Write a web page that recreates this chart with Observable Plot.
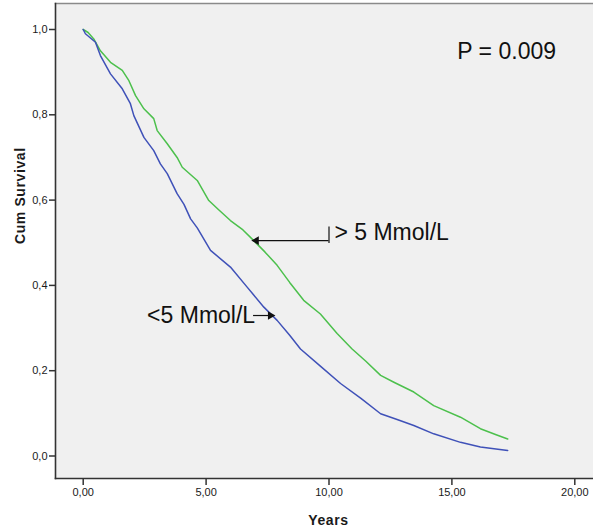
<!DOCTYPE html>
<html>
<head>
<meta charset="utf-8">
<script src="https://cdn.jsdelivr.net/npm/d3@7"></script>
<script src="https://cdn.jsdelivr.net/npm/@observablehq/plot@0.6"></script>
<style>
  html, body { margin: 0; padding: 0; background: #ffffff; }
  #chart svg { display: block; }
</style>
</head>
<body>
<div id="chart"></div>
<script>
// ---- data ----
const groupHigh = "> 5 Mmol/L";
const groupLow = "<5 Mmol/L";

const highTimes = [0, 0.2, 0.43, 0.7, 1.11, 1.59, 1.86, 2.13, 2.47, 2.87, 3.01, 3.42, 3.82, 4.03, 4.64, 5.11, 5.5, 5.99, 6.5, 6.94, 7.4, 7.89, 8.4, 8.97, 9.65, 10.33, 10.94, 11.5, 12.1, 12.64, 13.45, 14.26, 15.35, 16.16, 16.8, 17.27];
const highSurv  = [1.0, 0.993, 0.978, 0.95, 0.923, 0.904, 0.88, 0.845, 0.814, 0.791, 0.763, 0.732, 0.7, 0.677, 0.646, 0.599, 0.578, 0.552, 0.53, 0.505, 0.478, 0.447, 0.407, 0.365, 0.333, 0.287, 0.251, 0.222, 0.189, 0.173, 0.15, 0.118, 0.091, 0.064, 0.05, 0.04];

const lowTimes = [0, 0.09, 0.5, 0.7, 1.11, 1.59, 1.92, 2.06, 2.47, 2.87, 3.14, 3.42, 3.82, 4.1, 4.37, 4.64, 5.18, 5.99, 6.67, 7.35, 7.89, 8.4, 8.84, 9.66, 10.47, 11.3, 12.1, 12.8, 13.45, 14.26, 15.35, 16.16, 17.27];
const lowSurv  = [1.0, 0.99, 0.97, 0.939, 0.896, 0.861, 0.826, 0.798, 0.747, 0.716, 0.685, 0.662, 0.615, 0.59, 0.556, 0.535, 0.482, 0.443, 0.396, 0.349, 0.318, 0.283, 0.251, 0.21, 0.17, 0.135, 0.099, 0.085, 0.0715, 0.052, 0.032, 0.021, 0.013];

const xTicks = [0, 5, 10, 15, 20];
const yTicks = [0, 0.2, 0.4, 0.6, 0.8, 1.0];

const pText = "P = 0.009";
const pPos = [15.22, 0.9487];
const highLabelPos = [10.22, 0.5226];
const lowLabelPos = [2.6, 0.3287];
const highArrow = {x1: 10, x2: 6.92, y: 0.505, bar1: 0.498, bar2: 0.537};
const lowArrow = {x1: 6.93, x2: 7.74, y: 0.3294};

const colorHigh = "#4cc04c";
const colorLow = "#3f51b8";

// ---- build tables ----
const high = highTimes.map((t, i) => ({t, s: highSurv[i], g: groupHigh}));
const low = lowTimes.map((t, i) => ({t, s: lowSurv[i], g: groupLow}));

const font = "'Liberation Sans', Arial, sans-serif";

const chart = Plot.plot({
  width: 593,
  height: 529,
  marginLeft: 55,
  marginRight: 0,
  marginTop: 3,
  marginBottom: 51,
  style: {fontFamily: font, background: "#ffffff", color: "#1a1a1a"},
  x: {domain: [0, 20], insetLeft: 27.7, insetRight: 18.7},
  y: {domain: [0, 1], insetTop: 26, insetBottom: 22.5},
  marks: [
    Plot.frame({fill: "#f0f0f0", stroke: null}),
    Plot.frame({anchor: "top", stroke: "#8a8a8a", strokeWidth: 1.5}),
    Plot.frame({anchor: "left", stroke: "#333", strokeWidth: 1.6}),
    Plot.frame({anchor: "bottom", stroke: "#333", strokeWidth: 1.6}),
    Plot.axisX({ticks: xTicks, tickFormat: d => d.toFixed(2).replace(".", ","), tickSize: 7, tickPadding: 3, fontSize: 11, label: null, stroke: "#333", strokeWidth: 1.5}),
    Plot.axisY({ticks: yTicks, tickFormat: d => d.toFixed(1).replace(".", ","), tickSize: 6, tickPadding: 2, fontSize: 11, label: null, stroke: "#333", strokeWidth: 1.5}),
    Plot.line(high, {x: "t", y: "s", stroke: colorHigh, strokeWidth: 1.5}),
    Plot.line(low, {x: "t", y: "s", stroke: colorLow, strokeWidth: 1.5}),
    // annotations
    Plot.text([pText], {x: pPos[0], y: pPos[1], text: d => d, textAnchor: "start", fontSize: 23, fill: "#111"}),
    Plot.text([groupHigh], {x: highLabelPos[0], y: highLabelPos[1], text: d => d, textAnchor: "start", fontSize: 23, fill: "#111"}),
    Plot.text([groupLow], {x: lowLabelPos[0], y: lowLabelPos[1], text: d => d, textAnchor: "start", fontSize: 23, fill: "#111"}),
    Plot.ruleY([highArrow], {y: "y", x1: "x1", x2: "x2", stroke: "#111", strokeWidth: 1.2}),
    Plot.ruleX([highArrow], {x: "x1", y1: "bar1", y2: "bar2", stroke: "#111", strokeWidth: 1.2}),
    Plot.dot([highArrow], {x: "x2", y: "y", symbol: "triangle", r: 3.2, rotate: -90, fill: "#111", stroke: null, dx: 3}),
    Plot.ruleY([lowArrow], {y: "y", x1: "x1", x2: "x2", stroke: "#111", strokeWidth: 1.2}),
    Plot.dot([lowArrow], {x: "x2", y: "y", symbol: "triangle", r: 3.2, rotate: 90, fill: "#111", stroke: null, dx: -3}),
    // axis titles
    Plot.text(["Years"], {frameAnchor: "bottom", text: d => d, lineAnchor: "top", dy: 37, dx: 4, fontSize: 14, fontWeight: "bold", fill: "#1a1a1a"}),
    Plot.text(["Cum Survival"], {frameAnchor: "left", text: d => d, rotate: -90, dx: -35, dy: 3, fontSize: 14, fontWeight: "bold", fill: "#1a1a1a"})
  ]
});

d3.select(chart).selectAll("text").filter(function() { const s = this.textContent; return s === "Years" || s === "Cum Survival"; }).style("letter-spacing", "0.6px");
document.getElementById("chart").appendChild(chart);
</script>
</body>
</html>
